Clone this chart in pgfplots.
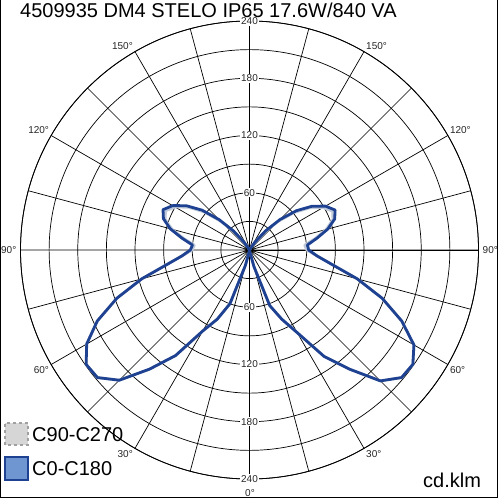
\documentclass[border=0pt]{standalone}
\usepackage{pgfplots}
\pgfplotsset{compat=1.18}
\usepackage{pgfplotstable}
\usepgfplotslibrary{polar}
\usepackage{fontspec}
\setmainfont{Liberation Sans}
\definecolor{cblue}{RGB}{30,66,145}
\definecolor{cgray}{RGB}{190,200,216}
\definecolor{lblue}{RGB}{112,150,210}
\definecolor{lgray}{RGB}{214,214,214}
\definecolor{dgray}{RGB}{160,160,160}

\pgfplotstableread{
gamma c0 c180 c90 c270
0 0 0 0 0
5 0 0 0 0
10 2 2 2 2
15 18 17 18 17
20 62 60 62 60
25 80 80 80 80
30 100 98 100 98
35 136 135 136 135
40 163 163 163 163
45 194 193 194 193
50 208 208 208 208
55 209 209 209 209
60 199 197 199 197
65 176 176 176 176
70 148 148 148 148
75 117 117 117 117
80 88 88 88 88
85 71 71 71 71
90 62 62 60 60
95 61 60 58 58
100 72 72 70 70
105 85 86 83 84
110 95 96 93 94
115 99 100 96 97
120 92 93 89 90
125 80 81 77 78
130 64 65 61 62
135 45 45 42 42
140 26 26 24 24
145 10 10 9 9
150 2 2 2 2
155 0 0 0 0
160 0 0 0 0
170 0 0 0 0
180 0 0 0 0
}\photdata

\tikzset{smlab/.style={font=\fontsize{10}{12}\selectfont, text=black!85}}

\begin{document}
\begin{tikzpicture}[x=1pt,y=1pt]
\useasboundingbox (0,0) rectangle (500,500);
\fill[white] (0,0) rectangle (500,500);
\begin{polaraxis}[
  at={(249.5pt,250pt)}, anchor=center,
  scale only axis, width=458pt, height=458pt,
  ymin=0, ymax=240,
  xtick={0,15,...,345}, ytick={30,60,...,240},
  xticklabels={}, yticklabels={},
  major tick length=0pt,
  grid=major,
  major grid style={black, line width=0.7pt},
  axis line style={black, line width=0.8pt},
  clip=false,
]
\addplot[cgray, line width=2.6pt, line join=round, no markers] table[x expr=\thisrow{gamma}-90, y=c90] {\photdata};
\addplot[cgray, line width=2.6pt, line join=round, no markers] table[x expr=270-\thisrow{gamma}, y=c270] {\photdata};
\addplot[cblue, line width=2.8pt, line join=round, no markers] table[x expr=\thisrow{gamma}-90, y=c0] {\photdata};
\addplot[cblue, line width=2.8pt, line join=round, no markers] table[x expr=270-\thisrow{gamma}, y=c180] {\photdata};
% radial value labels
\node[fill=white, inner sep=1pt, smlab] at (axis cs:90,60) {60};
\node[fill=white, inner sep=1pt, smlab] at (axis cs:90,120) {120};
\node[fill=white, inner sep=1pt, smlab] at (axis cs:90,180) {180};
\node[fill=white, inner sep=1pt, smlab] at (axis cs:90,240) {240};
\node[fill=white, inner sep=1pt, smlab] at (axis cs:270,60) {60};
\node[fill=white, inner sep=1pt, smlab] at (axis cs:270,120) {120};
\node[fill=white, inner sep=1pt, smlab] at (axis cs:270,180) {180};
\node[fill=white, inner sep=1pt, smlab] at (axis cs:270,240) {240};
% angle labels right
\node[anchor=north west, inner sep=2pt, smlab] at (axis cs:-60,240) {30°};
\node[anchor=north west, inner sep=2pt, smlab] at (axis cs:-30,240) {60°};
\node[anchor=west, inner sep=4pt, smlab] at (axis cs:0,240) {90°};
\node[anchor=south west, inner sep=2pt, smlab] at (axis cs:30,240) {120°};
\node[anchor=south west, inner sep=2pt, smlab] at (axis cs:60,240) {150°};
% angle labels left
\node[anchor=north east, inner sep=2pt, smlab] at (axis cs:240,240) {30°};
\node[anchor=north east, inner sep=2pt, smlab] at (axis cs:210,240) {60°};
\node[anchor=east, inner sep=4pt, smlab] at (axis cs:180,240) {90°};
\node[anchor=south east, inner sep=2pt, smlab] at (axis cs:150,240) {120°};
\node[anchor=south east, inner sep=2pt, smlab] at (axis cs:120,240) {150°};
\end{polaraxis}
\node[smlab] at (250,7) {0°};
% title
\node[anchor=base west, inner sep=0pt, font=\fontsize{20}{24}\selectfont] at (20,482) {4509935 DM4 STELO IP65 17.6W/840 VA};
% legend
\draw[dgray, dashed, line width=1.5pt, fill=lgray] (5,55) rectangle (28,77);
\node[anchor=base west, inner sep=0pt, font=\fontsize{20}{24}\selectfont] at (32,58.5) {C90-C270};
\draw[cblue, line width=1.5pt, fill=lblue] (5,20) rectangle (28,43);
\node[anchor=base west, inner sep=0pt, font=\fontsize{20}{24}\selectfont] at (32,24) {C0-C180};
\node[anchor=base west, inner sep=0pt, font=\fontsize{20}{24}\selectfont] at (423,12.7) {cd.klm};
% frame
\draw[black, line width=0.8pt] (0.5,500) -- (0.5,3) -- (497,3) -- (497,500);
\end{tikzpicture}
\end{document}
